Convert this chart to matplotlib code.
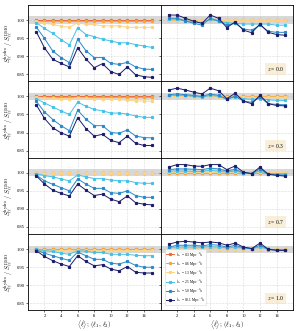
import numpy as np
import matplotlib
matplotlib.use('Agg')
import matplotlib.pyplot as plt

plt.rcParams['font.family'] = 'serif'
plt.rcParams['font.serif'] = ['Liberation Serif', 'DejaVu Serif']
plt.rcParams['mathtext.fontset'] = 'cm'

ell = np.arange(1, 16)
kcut = ['0.3', '0.6', '1.3', '2.5', '5.0', '10.1']
redshifts = ['0.0', '0.3', '0.7', '1.0']
colors = ['#ef6a3a', '#f6a33a', '#fdd385', '#45c2e8', '#2a8ac9', '#1d1d6b']

# left column: <l>, one list per k_cut, per redshift
left_z00 = [
  [1.000]*15,
  [0.998]*15,
  [0.997, 0.991, 0.988, 0.983, 0.980, 0.993, 0.988, 0.988, 0.984, 0.984, 0.984, 0.980, 0.980, 0.980, 0.980],
  [0.993, 0.977, 0.963, 0.946, 0.931, 0.979, 0.960, 0.954, 0.947, 0.942, 0.937, 0.937, 0.932, 0.928, 0.924],
  [0.981, 0.949, 0.914, 0.896, 0.882, 0.947, 0.915, 0.896, 0.896, 0.880, 0.877, 0.883, 0.870, 0.864, 0.863],
  [0.968, 0.923, 0.891, 0.880, 0.870, 0.923, 0.892, 0.868, 0.879, 0.857, 0.849, 0.870, 0.848, 0.843, 0.841],
]
left_z03 = [
  [1.000]*15,
  [0.999]*15,
  [0.999, 0.996, 0.995, 0.994, 0.993, 0.997, 0.995, 0.994, 0.993, 0.992, 0.992, 0.989, 0.988, 0.987, 0.987],
  [0.994, 0.982, 0.971, 0.960, 0.950, 0.984, 0.973, 0.964, 0.960, 0.954, 0.954, 0.951, 0.946, 0.942, 0.942],
  [0.987, 0.957, 0.936, 0.919, 0.905, 0.962, 0.937, 0.919, 0.919, 0.900, 0.898, 0.907, 0.890, 0.886, 0.885],
  [0.977, 0.939, 0.913, 0.899, 0.890, 0.941, 0.911, 0.890, 0.895, 0.878, 0.872, 0.890, 0.870, 0.864, 0.864],
]
left_z07 = [
  [1.000]*15,
  [1.000]*15,
  [0.999]*15,
  [0.998, 0.992, 0.989, 0.983, 0.978, 0.994, 0.989, 0.984, 0.984, 0.980, 0.978, 0.978, 0.973, 0.971, 0.971],
  [0.994, 0.978, 0.968, 0.959, 0.950, 0.983, 0.969, 0.957, 0.957, 0.945, 0.943, 0.950, 0.937, 0.932, 0.932],
  [0.992, 0.969, 0.952, 0.943, 0.936, 0.969, 0.952, 0.937, 0.941, 0.927, 0.920, 0.936, 0.917, 0.913, 0.911],
]
left_z10 = [
  [1.000]*15,
  [1.000]*15,
  [0.999]*15,
  [1.000, 0.996, 0.994, 0.989, 0.986, 0.996, 0.994, 0.991, 0.991, 0.986, 0.986, 0.986, 0.983, 0.982, 0.982],
  [0.998, 0.989, 0.982, 0.975, 0.969, 0.992, 0.982, 0.972, 0.972, 0.961, 0.959, 0.966, 0.955, 0.950, 0.950],
  [0.996, 0.980, 0.968, 0.959, 0.952, 0.982, 0.966, 0.954, 0.957, 0.945, 0.940, 0.952, 0.936, 0.934, 0.934],
]

# right column: (l1, l2)
right_z00 = [
  [1.000]*15,
  [1.001]*15,
  [1.000, 1.000, 1.000, 0.999, 0.999, 1.000, 0.999, 0.999, 0.999, 0.999, 0.999, 0.999, 0.999, 0.999, 0.999],
  [1.003, 1.002, 0.998, 0.995, 0.993, 1.002, 0.997, 0.993, 0.991, 0.989, 0.989, 0.989, 0.989, 0.986, 0.986],
  [1.005, 1.005, 0.998, 0.991, 0.986, 1.005, 0.998, 0.986, 0.991, 0.975, 0.972, 0.986, 0.969, 0.966, 0.966],
  [1.014, 1.014, 1.005, 0.997, 0.991, 1.014, 1.005, 0.979, 0.995, 0.972, 0.965, 0.989, 0.966, 0.960, 0.958],
]
right_z03 = [
  [1.000]*15,
  [1.001]*15,
  [1.000, 1.000, 1.000, 0.999, 0.999, 1.000, 0.999, 0.999, 0.999, 0.999, 0.998, 0.998, 0.998, 0.998, 0.998],
  [1.003, 1.003, 1.003, 1.000, 0.998, 1.003, 1.001, 0.994, 0.998, 0.994, 0.992, 0.994, 0.991, 0.989, 0.989],
  [1.005, 1.007, 1.005, 1.003, 1.000, 1.007, 1.003, 0.992, 1.001, 0.987, 0.984, 0.998, 0.980, 0.978, 0.977],
  [1.018, 1.023, 1.018, 1.012, 1.007, 1.023, 1.016, 0.994, 1.009, 0.987, 0.980, 1.003, 0.980, 0.975, 0.974],
]
right_z07 = [
  [1.000]*15,
  [1.000]*15,
  [1.002]*15,
  [1.005, 1.005, 1.005, 1.004, 1.004, 1.007, 1.005, 1.002, 1.005, 1.000, 0.999, 1.005, 0.998, 0.996, 0.996],
  [1.009, 1.011, 1.011, 1.010, 1.009, 1.013, 1.011, 1.005, 1.010, 1.000, 0.998, 1.011, 0.996, 0.995, 0.993],
  [1.016, 1.023, 1.023, 1.019, 1.018, 1.023, 1.023, 1.009, 1.019, 1.002, 0.998, 1.016, 0.996, 0.993, 0.991],
]
right_z10 = [
  [1.000]*15,
  [1.000, 1.000, 1.000, 1.000, 1.000, 1.000, 1.000, 1.000, 1.000, 1.000, 1.000, 1.000, 0.999, 0.998, 0.998],
  [1.002]*15,
  [1.005, 1.006, 1.006, 1.006, 1.006, 1.007, 1.006, 1.004, 1.006, 1.003, 1.002, 1.006, 1.000, 0.999, 0.999],
  [1.006, 1.011, 1.011, 1.011, 1.009, 1.013, 1.011, 1.006, 1.011, 1.004, 1.002, 1.011, 1.000, 0.997, 0.997],
  [1.014, 1.020, 1.022, 1.020, 1.018, 1.020, 1.018, 1.011, 1.017, 1.006, 1.002, 1.017, 1.000, 0.997, 0.997],
]

left_all = [left_z00, left_z03, left_z07, left_z10]
right_all = [right_z00, right_z03, right_z07, right_z10]

fig, axes = plt.subplots(4, 2, figsize=(2.97, 3.31), dpi=100, sharex=True, sharey=True)
fig.subplots_adjust(left=0.094, right=0.987, top=0.985, bottom=0.062, hspace=0, wspace=0)

for i in range(4):
  for j, data in enumerate([left_all[i], right_all[i]]):
    ax = axes[i, j]
    ax.axhspan(0.99, 1.01, color='grey', alpha=0.3, lw=0, zorder=0)
    for k in range(6):
      ax.plot(ell, data[k], color=colors[k], marker='s', ms=1.3, lw=0.7,
              label=r'$k_{\rm cr}$ = ' + kcut[k] + r' Mpc$^{-1}h$')
    ax.grid(True, ls=':', lw=0.4, color='#bbbbbb')
    ax.tick_params(labelsize=3.3, length=1.5, width=0.4, pad=0.8)
    for s in ax.spines.values():
      s.set_linewidth(0.6)
  axes[i, 0].set_ylabel(r'$S_{\ell\ell}^{\rm hydro}\ /\ S_{\ell\ell}^{\rm DMO}$', fontsize=4.5, labelpad=1)
  axes[i, 1].text(0.93, 0.16, r'$z$ = ' + redshifts[i], transform=axes[i, 1].transAxes,
                  ha='right', va='center', fontsize=4,
                  bbox=dict(boxstyle='square,pad=0.3', facecolor='wheat', alpha=0.5, edgecolor='none'))

ax = axes[0, 0]
ax.set_xlim(0, 16)
ax.set_ylim(0.83, 1.042)
ax.set_xticks([2, 4, 6, 8, 10, 12, 14])
ax.set_yticks([0.85, 0.90, 0.95, 1.00])
ax.set_yticklabels(['0.85', '0.90', '0.95', '1.00'])

axes[3, 0].set_xlabel(r'$\langle \ell \rangle;\,(\ell_1,\,\ell_2)$', fontsize=4.8, labelpad=0)
axes[3, 1].set_xlabel(r'$\langle \ell \rangle;\,(\ell_1,\,\ell_2)$', fontsize=4.8, labelpad=0)

leg = axes[3, 1].legend(loc='lower left', bbox_to_anchor=(0.02, 0.05), fontsize=2.6,
                        frameon=True, handlelength=2.2, borderpad=0.25, labelspacing=0.02,
                        handletextpad=0.6)
leg.get_frame().set_linewidth(0.4)

fig.savefig('out.png', dpi=100)
